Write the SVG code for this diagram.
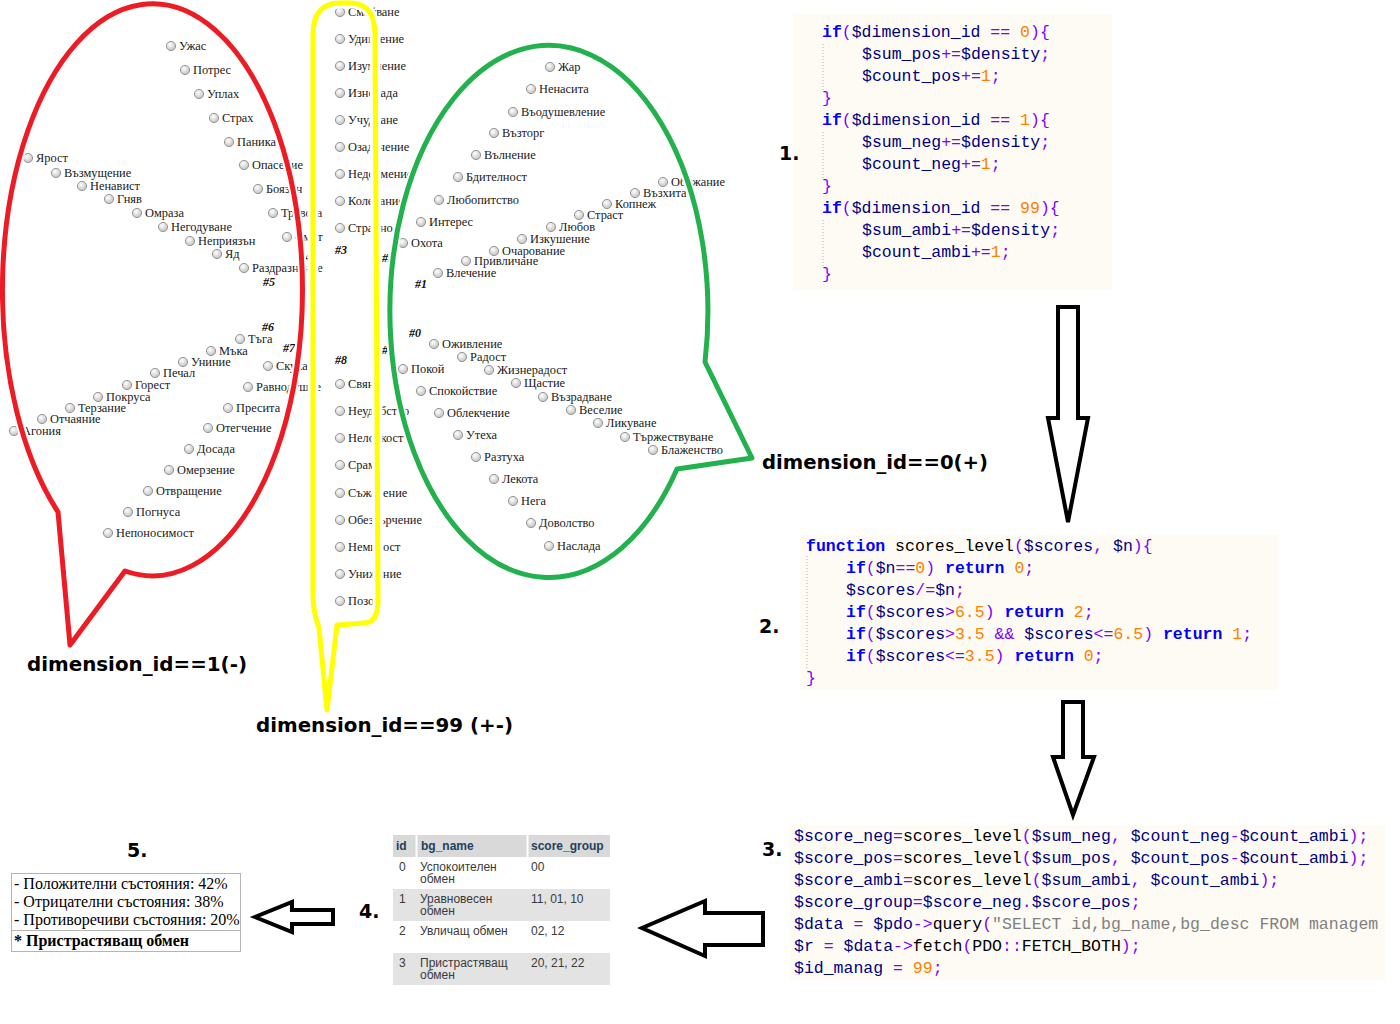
<svg xmlns="http://www.w3.org/2000/svg" xmlns:xlink="http://www.w3.org/1999/xlink" width="1400" height="1024" viewBox="0 0 1400 1024">
  <defs>
    <radialGradient id="rbFill" cx="0.4" cy="0.35" r="0.7">
      <stop offset="0" stop-color="#ffffff"/>
      <stop offset="1" stop-color="#bdbdbd"/>
    </radialGradient>
    <circle id="rb" r="4.6" fill="url(#rbFill)" stroke="#8c8c8c" stroke-width="0.9"/>
    <clipPath id="clip3"><rect x="790" y="825" width="595" height="155"/></clipPath>
    <path id="redShape" d="M70,645 L58,512 A150 286 0 1 1 125,571 Z"/>
    <path id="yellowShape" d="M327,710 L319,628 Q313,612 313,595 L313,35 Q313,3 340,3 L350,3 Q375,3 375,35 L378,600 Q378,622 365,623 L337,625 Z"/>
    <path id="greenShape" d="M752,458 L705,362 A159 266 0 1 0 677,469 Z"/>
  </defs>
  <style>
    .it { font-family: "Liberation Serif", "Times New Roman", serif; font-size: 12.4px; fill: #1a1a1a; }
    .grp { font-family: "Liberation Serif", "Times New Roman", serif; font-size: 12px; font-weight: bold; font-style: italic; fill: #111; }
    .big { font-family: "DejaVu Sans", Verdana, sans-serif; font-size: 20px; font-weight: bold; fill: #000; }
    .num-lbl { font-family: "DejaVu Sans", Verdana, sans-serif; font-size: 19px; font-weight: bold; fill: #000; }
    .code { font-family: "Liberation Mono", "Courier New", monospace; font-size: 16.5px; fill: #000; white-space: pre; }
    .kw { fill: #0000ff; font-weight: bold; }
    .op { fill: #8000ff; }
    .n { fill: #ff8000; }
    .v { fill: #000080; }
    .s { fill: #808080; }
    .codebg { fill: #fdfbf3; }
    .guide { stroke: #b0b0b0; stroke-width: 1; stroke-dasharray: 1 2; }
    .halo { fill: none; stroke: #ffffff; stroke-width: 9; stroke-linejoin: round; }
    .halo-wide { fill: none; stroke: #ffffff; stroke-width: 11; stroke-linejoin: round; }
    .tbl { font-family: "Liberation Sans", Arial, sans-serif; font-size: 12px; fill: #3a3a3a; }
    .th { font-family: "Liberation Sans", Arial, sans-serif; font-size: 12px; font-weight: bold; fill: #23405e; }
    .res { font-family: "Liberation Serif", "Times New Roman", serif; font-size: 16px; fill: #000; }
    .arrow { fill: #ffffff; stroke: #000; stroke-width: 4; stroke-linejoin: miter; }
  </style>

  <rect width="1400" height="1024" fill="#ffffff"/>

  <!-- negative states (dimension 1) -->
  <g id="negative-items">
    <use href="#rb" x="171" y="46"/><text class="it" x="179" y="50">Ужас</text>
    <use href="#rb" x="185" y="70"/><text class="it" x="193" y="74">Потрес</text>
    <use href="#rb" x="199" y="94"/><text class="it" x="207" y="98">Уплах</text>
    <use href="#rb" x="214" y="118"/><text class="it" x="222" y="122">Страх</text>
    <use href="#rb" x="229" y="142"/><text class="it" x="237" y="146">Паника</text>
    <use href="#rb" x="244" y="165"/><text class="it" x="252" y="169">Опасение</text>
    <use href="#rb" x="258" y="189"/><text class="it" x="266" y="193">Боязън</text>
    <use href="#rb" x="273" y="213"/><text class="it" x="281" y="217">Тревога</text>
    <use href="#rb" x="287" y="237"/><text class="it" x="295" y="241">Смут</text>
    <text class="grp" x="299" y="261">#4</text>

    <use href="#rb" x="28" y="158"/><text class="it" x="36" y="162">Ярост</text>
    <use href="#rb" x="56" y="173"/><text class="it" x="64" y="177">Възмущение</text>
    <use href="#rb" x="82" y="186"/><text class="it" x="90" y="190">Ненавист</text>
    <use href="#rb" x="109" y="199"/><text class="it" x="117" y="203">Гняв</text>
    <use href="#rb" x="137" y="213"/><text class="it" x="145" y="217">Омраза</text>
    <use href="#rb" x="163" y="227"/><text class="it" x="171" y="231">Негодуване</text>
    <use href="#rb" x="190" y="241"/><text class="it" x="198" y="245">Неприязън</text>
    <use href="#rb" x="217" y="254"/><text class="it" x="225" y="258">Яд</text>
    <use href="#rb" x="244" y="268"/><text class="it" x="252" y="272">Раздразнение</text>
    <text class="grp" x="263" y="286">#5</text>

    <text class="grp" x="262" y="331">#6</text>
    <use href="#rb" x="240" y="339"/><text class="it" x="248" y="343">Тъга</text>
    <use href="#rb" x="211" y="351"/><text class="it" x="219" y="355">Мъка</text>
    <use href="#rb" x="183" y="362"/><text class="it" x="191" y="366">Униние</text>
    <use href="#rb" x="155" y="373"/><text class="it" x="163" y="377">Печал</text>
    <use href="#rb" x="127" y="385"/><text class="it" x="135" y="389">Горест</text>
    <use href="#rb" x="98" y="397"/><text class="it" x="106" y="401">Покруса</text>
    <use href="#rb" x="70" y="408"/><text class="it" x="78" y="412">Терзание</text>
    <use href="#rb" x="42" y="419"/><text class="it" x="50" y="423">Отчаяние</text>
    <use href="#rb" x="14" y="431"/><text class="it" x="22" y="435">Агония</text>

    <text class="grp" x="283" y="352">#7</text>
    <use href="#rb" x="268" y="366"/><text class="it" x="276" y="370">Скука</text>
    <use href="#rb" x="248" y="387"/><text class="it" x="256" y="391">Равнодушие</text>
    <use href="#rb" x="228" y="408"/><text class="it" x="236" y="412">Пресита</text>
    <use href="#rb" x="208" y="428"/><text class="it" x="216" y="432">Отегчение</text>
    <use href="#rb" x="189" y="449"/><text class="it" x="197" y="453">Досада</text>
    <use href="#rb" x="169" y="470"/><text class="it" x="177" y="474">Омерзение</text>
    <use href="#rb" x="148" y="491"/><text class="it" x="156" y="495">Отвращение</text>
    <use href="#rb" x="128" y="512"/><text class="it" x="136" y="516">Погнуса</text>
    <use href="#rb" x="108" y="533"/><text class="it" x="116" y="537">Непоносимост</text>
  </g>

  <!-- ambivalent states (dimension 99) -->
  <g id="ambivalent-items">
    <use href="#rb" x="340" y="12"/><text class="it" x="348" y="16">Смайване</text>
    <use href="#rb" x="340" y="39"/><text class="it" x="348" y="43">Удивление</text>
    <use href="#rb" x="340" y="66"/><text class="it" x="348" y="70">Изумление</text>
    <use href="#rb" x="340" y="93"/><text class="it" x="348" y="97">Изненада</text>
    <use href="#rb" x="340" y="120"/><text class="it" x="348" y="124">Учудване</text>
    <use href="#rb" x="340" y="147"/><text class="it" x="348" y="151">Озадачение</text>
    <use href="#rb" x="340" y="174"/><text class="it" x="348" y="178">Недоумение</text>
    <use href="#rb" x="340" y="201"/><text class="it" x="348" y="205">Колебание</text>
    <use href="#rb" x="340" y="228"/><text class="it" x="348" y="232">Странно</text>
    <text class="grp" x="335" y="254">#3</text>

    <text class="grp" x="335" y="364">#8</text>
    <use href="#rb" x="340" y="384"/><text class="it" x="348" y="388">Свян</text>
    <use href="#rb" x="340" y="411"/><text class="it" x="348" y="415">Неудобство</text>
    <use href="#rb" x="340" y="438"/><text class="it" x="348" y="442">Неловкост</text>
    <use href="#rb" x="340" y="465"/><text class="it" x="348" y="469">Срам</text>
    <use href="#rb" x="340" y="493"/><text class="it" x="348" y="497">Съжаление</text>
    <use href="#rb" x="340" y="520"/><text class="it" x="348" y="524">Обезсърчение</text>
    <use href="#rb" x="340" y="547"/><text class="it" x="348" y="551">Немилост</text>
    <use href="#rb" x="340" y="574"/><text class="it" x="348" y="578">Унижение</text>
    <use href="#rb" x="340" y="601"/><text class="it" x="348" y="605">Позор</text>
  </g>

  <!-- positive states (dimension 0) -->
  <g id="positive-items">
    <use href="#rb" x="550" y="67"/><text class="it" x="558" y="71">Жар</text>
    <use href="#rb" x="531" y="89"/><text class="it" x="539" y="93">Ненасита</text>
    <use href="#rb" x="513" y="112"/><text class="it" x="521" y="116">Въодушевление</text>
    <use href="#rb" x="494" y="133"/><text class="it" x="502" y="137">Възторг</text>
    <use href="#rb" x="476" y="155"/><text class="it" x="484" y="159">Вълнение</text>
    <use href="#rb" x="458" y="177"/><text class="it" x="466" y="181">Бдителност</text>
    <use href="#rb" x="439" y="200"/><text class="it" x="447" y="204">Любопитство</text>
    <use href="#rb" x="421" y="222"/><text class="it" x="429" y="226">Интерес</text>
    <use href="#rb" x="403" y="243"/><text class="it" x="411" y="247">Охота</text>
    <text class="grp" x="382" y="262">#2</text>

    <use href="#rb" x="663" y="182"/><text class="it" x="671" y="186">Обожание</text>
    <use href="#rb" x="635" y="193"/><text class="it" x="643" y="197">Възхита</text>
    <use href="#rb" x="607" y="204"/><text class="it" x="615" y="208">Копнеж</text>
    <use href="#rb" x="579" y="215"/><text class="it" x="587" y="219">Страст</text>
    <use href="#rb" x="551" y="227"/><text class="it" x="559" y="231">Любов</text>
    <use href="#rb" x="522" y="239"/><text class="it" x="530" y="243">Изкушение</text>
    <use href="#rb" x="494" y="251"/><text class="it" x="502" y="255">Очарование</text>
    <use href="#rb" x="466" y="261"/><text class="it" x="474" y="265">Привличане</text>
    <use href="#rb" x="438" y="273"/><text class="it" x="446" y="277">Влечение</text>
    <text class="grp" x="415" y="288">#1</text>

    <text class="grp" x="409" y="337">#0</text>
    <use href="#rb" x="434" y="344"/><text class="it" x="442" y="348">Оживление</text>
    <use href="#rb" x="462" y="357"/><text class="it" x="470" y="361">Радост</text>
    <use href="#rb" x="489" y="370"/><text class="it" x="497" y="374">Жизнерадост</text>
    <use href="#rb" x="516" y="383"/><text class="it" x="524" y="387">Щастие</text>
    <use href="#rb" x="543" y="397"/><text class="it" x="551" y="401">Възрадване</text>
    <use href="#rb" x="571" y="410"/><text class="it" x="579" y="414">Веселие</text>
    <use href="#rb" x="598" y="423"/><text class="it" x="606" y="427">Ликуване</text>
    <use href="#rb" x="625" y="437"/><text class="it" x="633" y="441">Тържествуване</text>
    <use href="#rb" x="653" y="450"/><text class="it" x="661" y="454">Блаженство</text>

    <text class="grp" x="382" y="354">#9</text>
    <use href="#rb" x="403" y="369"/><text class="it" x="411" y="373">Покой</text>
    <use href="#rb" x="421" y="391"/><text class="it" x="429" y="395">Спокойствие</text>
    <use href="#rb" x="439" y="413"/><text class="it" x="447" y="417">Облекчение</text>
    <use href="#rb" x="458" y="435"/><text class="it" x="466" y="439">Утеха</text>
    <use href="#rb" x="476" y="457"/><text class="it" x="484" y="461">Разтуха</text>
    <use href="#rb" x="494" y="479"/><text class="it" x="502" y="483">Лекота</text>
    <use href="#rb" x="513" y="501"/><text class="it" x="521" y="505">Нега</text>
    <use href="#rb" x="531" y="523"/><text class="it" x="539" y="527">Доволство</text>
    <use href="#rb" x="549" y="546"/><text class="it" x="557" y="550">Наслада</text>
  </g>

  <!-- hand-drawn speech bubbles around the three groups -->
  <g id="bubbles">
    <use href="#redShape" class="halo"/>
    <use href="#yellowShape" class="halo-wide"/>
    <use href="#greenShape" class="halo"/>
    <use href="#redShape" fill="none" stroke="#ed1c24" stroke-width="5" stroke-linejoin="round"/>
    <use href="#yellowShape" fill="none" stroke="#ffff00" stroke-width="5" stroke-linejoin="round"/>
    <use href="#greenShape" fill="none" stroke="#22b14c" stroke-width="5" stroke-linejoin="round"/>
  </g>

  <g id="bubble-labels">
    <text class="big" x="27" y="671" textLength="220" lengthAdjust="spacingAndGlyphs">dimension_id==1(-)</text>
    <text class="big" x="256" y="732" textLength="257" lengthAdjust="spacingAndGlyphs">dimension_id==99 (+-)</text>
    <text class="big" x="762" y="469" textLength="226" lengthAdjust="spacingAndGlyphs">dimension_id==0(+)</text>
  </g>

  <!-- step 1: accumulate density per dimension -->
  <g id="step1">
    <rect class="codebg" x="793" y="14" width="319" height="276"/>
    <line class="guide" x1="823" y1="44" x2="823" y2="90"/>
    <line class="guide" x1="823" y1="132" x2="823" y2="178"/>
    <line class="guide" x1="823" y1="220" x2="823" y2="266"/>
    <text class="code" x="822" y="37"><tspan class="kw">if</tspan><tspan class="op">(</tspan><tspan class="v">$dimension_id</tspan> <tspan class="op">==</tspan> <tspan class="n">0</tspan><tspan class="op">){</tspan></text>
    <text class="code" x="862" y="59"><tspan class="v">$sum_pos</tspan><tspan class="op">+=</tspan><tspan class="v">$density</tspan><tspan class="op">;</tspan></text>
    <text class="code" x="862" y="81"><tspan class="v">$count_pos</tspan><tspan class="op">+=</tspan><tspan class="n">1</tspan><tspan class="op">;</tspan></text>
    <text class="code op" x="822" y="103">}</text>
    <text class="code" x="822" y="125"><tspan class="kw">if</tspan><tspan class="op">(</tspan><tspan class="v">$dimension_id</tspan> <tspan class="op">==</tspan> <tspan class="n">1</tspan><tspan class="op">){</tspan></text>
    <text class="code" x="862" y="147"><tspan class="v">$sum_neg</tspan><tspan class="op">+=</tspan><tspan class="v">$density</tspan><tspan class="op">;</tspan></text>
    <text class="code" x="862" y="169"><tspan class="v">$count_neg</tspan><tspan class="op">+=</tspan><tspan class="n">1</tspan><tspan class="op">;</tspan></text>
    <text class="code op" x="822" y="191">}</text>
    <text class="code" x="822" y="213"><tspan class="kw">if</tspan><tspan class="op">(</tspan><tspan class="v">$dimension_id</tspan> <tspan class="op">==</tspan> <tspan class="n">99</tspan><tspan class="op">){</tspan></text>
    <text class="code" x="862" y="235"><tspan class="v">$sum_ambi</tspan><tspan class="op">+=</tspan><tspan class="v">$density</tspan><tspan class="op">;</tspan></text>
    <text class="code" x="862" y="257"><tspan class="v">$count_ambi</tspan><tspan class="op">+=</tspan><tspan class="n">1</tspan><tspan class="op">;</tspan></text>
    <text class="code op" x="822" y="279">}</text>
    <text class="num-lbl" x="779" y="160">1.</text>
  </g>

  <!-- step 2: level function -->
  <g id="step2">
    <rect class="codebg" x="800" y="535" width="478" height="155"/>
    <line class="guide" x1="807" y1="556" x2="807" y2="668"/>
    <text class="code" x="806" y="551"><tspan class="kw">function</tspan> scores_level<tspan class="op">(</tspan><tspan class="v">$scores</tspan><tspan class="op">,</tspan> <tspan class="v">$n</tspan><tspan class="op">){</tspan></text>
    <text class="code" x="846" y="573"><tspan class="kw">if</tspan><tspan class="op">(</tspan><tspan class="v">$n</tspan><tspan class="op">==</tspan><tspan class="n">0</tspan><tspan class="op">)</tspan> <tspan class="kw">return</tspan> <tspan class="n">0</tspan><tspan class="op">;</tspan></text>
    <text class="code" x="846" y="595"><tspan class="v">$scores</tspan><tspan class="op">/=</tspan><tspan class="v">$n</tspan><tspan class="op">;</tspan></text>
    <text class="code" x="846" y="617"><tspan class="kw">if</tspan><tspan class="op">(</tspan><tspan class="v">$scores</tspan><tspan class="op">&gt;</tspan><tspan class="n">6.5</tspan><tspan class="op">)</tspan> <tspan class="kw">return</tspan> <tspan class="n">2</tspan><tspan class="op">;</tspan></text>
    <text class="code" x="846" y="639"><tspan class="kw">if</tspan><tspan class="op">(</tspan><tspan class="v">$scores</tspan><tspan class="op">&gt;</tspan><tspan class="n">3.5</tspan> <tspan class="op">&amp;&amp;</tspan> <tspan class="v">$scores</tspan><tspan class="op">&lt;=</tspan><tspan class="n">6.5</tspan><tspan class="op">)</tspan> <tspan class="kw">return</tspan> <tspan class="n">1</tspan><tspan class="op">;</tspan></text>
    <text class="code" x="846" y="661"><tspan class="kw">if</tspan><tspan class="op">(</tspan><tspan class="v">$scores</tspan><tspan class="op">&lt;=</tspan><tspan class="n">3.5</tspan><tspan class="op">)</tspan> <tspan class="kw">return</tspan> <tspan class="n">0</tspan><tspan class="op">;</tspan></text>
    <text class="code op" x="806" y="683">}</text>
    <text class="num-lbl" x="759" y="633">2.</text>
  </g>

  <!-- step 3: group score and lookup -->
  <g id="step3">
    <rect class="codebg" x="790" y="825" width="595" height="155"/>
    <g clip-path="url(#clip3)">
      <text class="code" x="794" y="841"><tspan class="v">$score_neg</tspan><tspan class="op">=</tspan>scores_level<tspan class="op">(</tspan><tspan class="v">$sum_neg</tspan><tspan class="op">,</tspan> <tspan class="v">$count_neg</tspan><tspan class="op">-</tspan><tspan class="v">$count_ambi</tspan><tspan class="op">);</tspan></text>
      <text class="code" x="794" y="863"><tspan class="v">$score_pos</tspan><tspan class="op">=</tspan>scores_level<tspan class="op">(</tspan><tspan class="v">$sum_pos</tspan><tspan class="op">,</tspan> <tspan class="v">$count_pos</tspan><tspan class="op">-</tspan><tspan class="v">$count_ambi</tspan><tspan class="op">);</tspan></text>
      <text class="code" x="794" y="885"><tspan class="v">$score_ambi</tspan><tspan class="op">=</tspan>scores_level<tspan class="op">(</tspan><tspan class="v">$sum_ambi</tspan><tspan class="op">,</tspan> <tspan class="v">$count_ambi</tspan><tspan class="op">);</tspan></text>
      <text class="code" x="794" y="907"><tspan class="v">$score_group</tspan><tspan class="op">=</tspan><tspan class="v">$score_neg</tspan><tspan class="op">.</tspan><tspan class="v">$score_pos</tspan><tspan class="op">;</tspan></text>
      <text class="code" x="794" y="929"><tspan class="v">$data</tspan> <tspan class="op">=</tspan> <tspan class="v">$pdo</tspan><tspan class="op">-&gt;</tspan>query<tspan class="op">(</tspan><tspan class="s">"SELECT id,bg_name,bg_desc FROM managem</tspan></text>
      <text class="code" x="794" y="951"><tspan class="v">$r</tspan> <tspan class="op">=</tspan> <tspan class="v">$data</tspan><tspan class="op">-&gt;</tspan>fetch<tspan class="op">(</tspan>PDO<tspan class="op">::</tspan>FETCH_BOTH<tspan class="op">);</tspan></text>
      <text class="code" x="794" y="973"><tspan class="v">$id_manag</tspan> <tspan class="op">=</tspan> <tspan class="n">99</tspan><tspan class="op">;</tspan></text>
    </g>
    <text class="num-lbl" x="762" y="856">3.</text>
  </g>

  <!-- step 4: management groups table -->
  <g id="step4">
    <rect x="393" y="835" width="217" height="22" fill="#d9d9d9"/>
    <rect x="393" y="889" width="217" height="32" fill="#e3e3e3"/>
    <rect x="393" y="953" width="217" height="32" fill="#e3e3e3"/>
    <line x1="416.5" y1="835" x2="416.5" y2="857" stroke="#ffffff" stroke-width="2"/>
    <line x1="527.5" y1="835" x2="527.5" y2="857" stroke="#ffffff" stroke-width="2"/>
    <text class="th" x="396" y="850">id</text>
    <text class="th" x="421" y="850">bg_name</text>
    <text class="th" x="531" y="850">score_group</text>
    <text class="tbl" x="399" y="871">0</text>
    <text class="tbl" x="420" y="871">Успокоителен</text>
    <text class="tbl" x="420" y="883">обмен</text>
    <text class="tbl" x="531" y="871">00</text>
    <text class="tbl" x="399" y="903">1</text>
    <text class="tbl" x="420" y="903">Уравновесен</text>
    <text class="tbl" x="420" y="915">обмен</text>
    <text class="tbl" x="531" y="903">11, 01, 10</text>
    <text class="tbl" x="399" y="935">2</text>
    <text class="tbl" x="420" y="935">Увличащ обмен</text>
    <text class="tbl" x="531" y="935">02, 12</text>
    <text class="tbl" x="399" y="967">3</text>
    <text class="tbl" x="420" y="967">Пристрастяващ</text>
    <text class="tbl" x="420" y="979">обмен</text>
    <text class="tbl" x="531" y="967">20, 21, 22</text>
    <text class="num-lbl" x="359" y="918">4.</text>
  </g>

  <!-- step 5: result summary -->
  <g id="step5">
    <rect x="11.5" y="873.5" width="229" height="78" fill="#ffffff" stroke="#b4b4b4" stroke-width="1"/>
    <line x1="11.5" y1="930.5" x2="240.5" y2="930.5" stroke="#b4b4b4" stroke-width="1"/>
    <text class="res" x="14" y="889">- Положителни състояния: 42%</text>
    <text class="res" x="14" y="907">- Отрицателни състояния: 38%</text>
    <text class="res" x="14" y="925">- Противоречиви състояния: 20%</text>
    <text class="res" x="14" y="946" font-weight="bold">* Пристрастяващ обмен</text>
    <text class="num-lbl" x="127" y="857">5.</text>
  </g>

  <!-- flow arrows between the steps -->
  <g id="connectors">
    <polygon class="arrow" points="1058,307 1078,307 1078,418 1088,418 1068,522 1048,418 1058,418"/>
    <polygon class="arrow" points="1063,702 1083,702 1083,757 1094,757 1073,815 1053,757 1063,757"/>
    <polygon class="arrow" points="763,913 705,913 705,901 642,928 705,956 705,945 763,945"/>
    <polygon class="arrow" points="333,910 292,910 292,902 255,917 292,932 292,924 333,924"/>
  </g>
</svg>
